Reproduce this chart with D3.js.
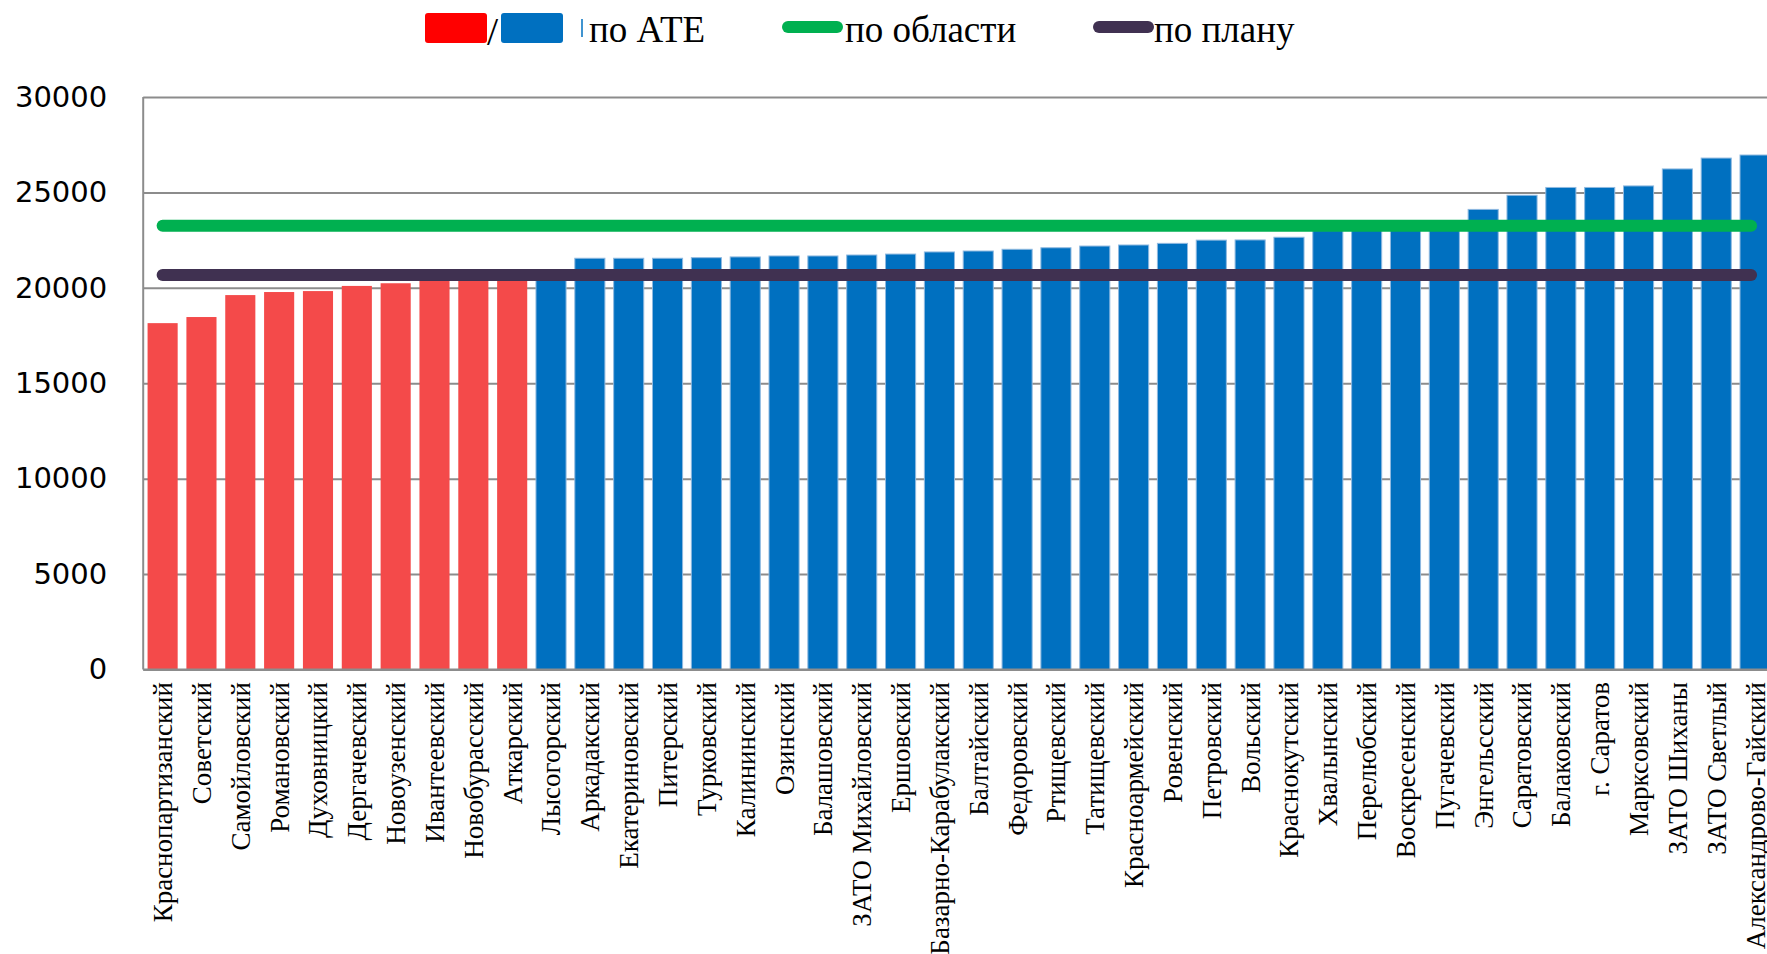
<!DOCTYPE html>
<html>
<head>
<meta charset="utf-8">
<script src="https://cdn.jsdelivr.net/npm/d3@7"></script>
<style>
  body { margin: 0; background: #fff; }
</style>
</head>
<body>
<div id="chart"></div>
<script>
// ---- data ----
const districts = [
    "Краснопартизанский", "Советский", "Самойловский", "Романовский", "Духовницкий",
    "Дергачевский", "Новоузенский", "Ивантеевский", "Новобурасский", "Аткарский",
    "Лысогорский", "Аркадакский", "Екатериновский", "Питерский", "Турковский",
    "Калининский", "Озинский", "Балашовский", "ЗАТО Михайловский", "Ершовский",
    "Базарно-Карабулакский", "Балтайский", "Федоровский", "Ртищевский", "Татищевский",
    "Красноармейский", "Ровенский", "Петровский", "Вольский", "Краснокутский",
    "Хвалынский", "Перелюбский", "Воскресенский", "Пугачевский", "Энгельсский",
    "Саратовский", "Балаковский", "г. Саратов", "Марксовский", "ЗАТО Шиханы",
    "ЗАТО Светлый", "Александрово-Гайский"
];
const ateValues = [
    18150, 18470, 19620, 19780, 19830,
    20100, 20240, 20450, 20550, 20630,
    20800, 21550, 21550, 21550, 21580,
    21620, 21670, 21670, 21720, 21770,
    21880, 21930, 22020, 22100, 22190,
    22245, 22330, 22500, 22510, 22650,
    23000, 23050, 23100, 23200, 24110,
    24850, 25260, 25260, 25340, 26230,
    26800, 26960
];
const regionValue = 23250;   // по области
const planValue = 20670;     // по плану
const yTicks = [0, 5000, 10000, 15000, 20000, 25000, 30000];

const width = 1767, height = 954;
const left = 143.2, step = 38.84;
const y0 = 669.5, yTop = 97;

const svg = d3.select("#chart").append("svg")
    .attr("width", width)
    .attr("height", height)
    .style("background", "#fff");

const x = d3.scaleBand()
    .domain(districts)
    .range([left, left + districts.length * step])
    .paddingInner(0.225)
    .paddingOuter(0.1125);

const y = d3.scaleLinear()
    .domain([0, 30000])
    .range([y0, yTop]);

// gridlines + y labels
const yAxis = svg.append("g")
    .attr("transform", `translate(${left},0)`)
    .call(d3.axisLeft(y).tickValues(yTicks).tickSize(-(width - left)).tickPadding(36).tickFormat(d3.format("d")));
yAxis.select(".domain").remove();
yAxis.selectAll(".tick line").attr("stroke", "#8c8c8c").attr("stroke-width", 2);
yAxis.selectAll(".tick text")
    .style("font-family", "'DejaVu Sans', sans-serif")
    .style("font-size", "29px")
    .attr("fill", "#000");

// bars
svg.append("g")
    .selectAll("rect")
    .data(districts)
    .enter()
    .append("rect")
    .attr("x", d => x(d))
    .attr("width", x.bandwidth())
    .attr("y", (d, i) => y(ateValues[i]))
    .attr("height", (d, i) => y(0) - y(ateValues[i]))
    .attr("fill", (d, i) => ateValues[i] < planValue ? "#F44A4A" : "#0070C0")
    .attr("stroke", (d, i) => ateValues[i] < planValue ? "none" : "#8fb9e0")
    .attr("stroke-width", 1);

// reference lines
const x1 = x(districts[0]) + x.bandwidth() / 2;
const x2 = x(districts[districts.length - 1]) + x.bandwidth() / 2 - 4;
[[regionValue, "#00B050"], [planValue, "#403151"]].forEach(([v, c]) => {
    svg.append("line")
        .attr("x1", x1).attr("x2", x2)
        .attr("y1", y(v)).attr("y2", y(v))
        .attr("stroke", c)
        .attr("stroke-width", 12)
        .attr("stroke-linecap", "round");
});

// axis lines
svg.append("line")
    .attr("x1", left).attr("x2", left)
    .attr("y1", y(30000)).attr("y2", y(0))
    .attr("stroke", "#8c8c8c").attr("stroke-width", 2);
svg.append("line")
    .attr("x1", left).attr("x2", width)
    .attr("y1", y(0)).attr("y2", y(0))
    .attr("stroke", "#8c8c8c").attr("stroke-width", 2);

// category labels
svg.append("g")
    .selectAll("text")
    .data(districts)
    .enter()
    .append("text")
    .attr("transform", d => `translate(${x(d) + x.bandwidth() / 2},682) rotate(-90)`)
    .attr("dy", "0.35em")
    .attr("text-anchor", "end")
    .style("font-family", "'Liberation Serif', 'Times New Roman', serif")
    .style("font-size", "27px")
    .text(d => d);

// legend
const legend = svg.append("g");
const legendFont = "'Liberation Serif', 'Times New Roman', serif";
legend.append("rect").attr("x", 425).attr("y", 13).attr("width", 62).attr("height", 30)
    .attr("rx", 3).attr("fill", "#FF0000");
legend.append("text").attr("x", 487).attr("y", 45)
    .style("font-family", legendFont).style("font-size", "40px").text("/");
legend.append("rect").attr("x", 501).attr("y", 13).attr("width", 62).attr("height", 30)
    .attr("rx", 3).attr("fill", "#0070C0");
legend.append("line").attr("x1", 582).attr("x2", 582).attr("y1", 19).attr("y2", 37)
    .attr("stroke", "#0070C0").attr("stroke-width", 1.5);
legend.append("text").attr("x", 589).attr("y", 42)
    .style("font-family", legendFont).style("font-size", "37px").text("по АТЕ");

[[788, "#00B050", 845, "по области"], [1099, "#403151", 1154, "по плану"]].forEach(([lx, c, tx, t]) => {
    legend.append("line").attr("x1", lx).attr("x2", lx + 49).attr("y1", 27).attr("y2", 27)
        .attr("stroke", c).attr("stroke-width", 12).attr("stroke-linecap", "round");
    legend.append("text").attr("x", tx).attr("y", 42)
        .style("font-family", legendFont).style("font-size", "37px").text(t);
});
</script>
</body>
</html>
